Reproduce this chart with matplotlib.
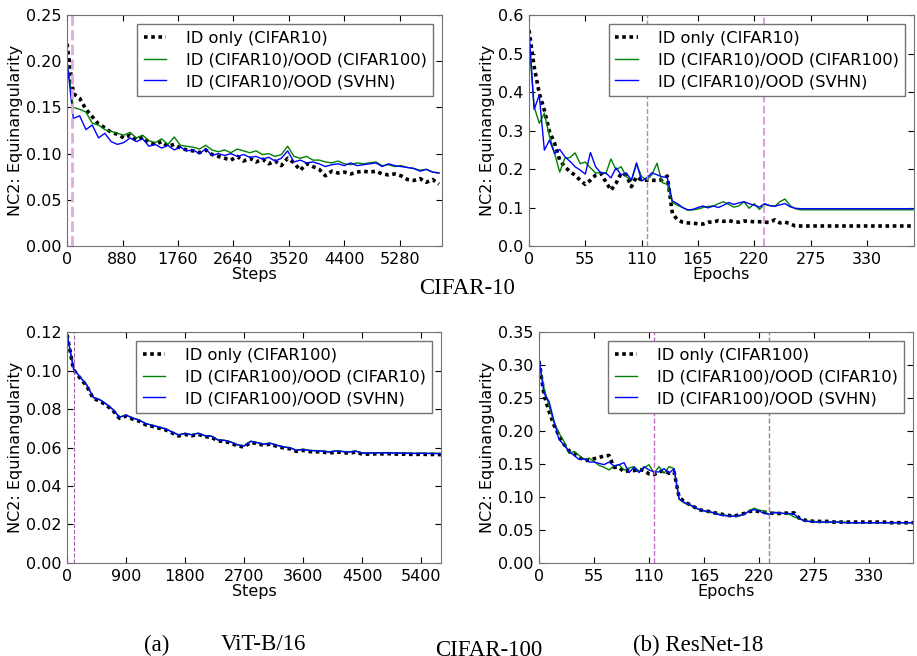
import numpy as np
import matplotlib.pyplot as plt

# ---- ViT-B/16, CIFAR-10 (steps) ----
vit10_steps = np.arange(0, 6000, 100)
vit10_id = [0.219, 0.165, 0.160, 0.148, 0.140, 0.132, 0.128, 0.123, 0.121, 0.117,
            0.120, 0.115, 0.118, 0.112, 0.110, 0.113, 0.108, 0.110, 0.106, 0.104,
            0.103, 0.101, 0.104, 0.099, 0.097, 0.095, 0.093, 0.097, 0.092, 0.095,
            0.091, 0.094, 0.089, 0.092, 0.087, 0.095, 0.090, 0.082, 0.089, 0.086,
            0.083, 0.076, 0.081, 0.079, 0.080, 0.078, 0.080, 0.081, 0.080, 0.081,
            0.078, 0.077, 0.078, 0.076, 0.072, 0.071, 0.073, 0.069, 0.072, 0.067]
vit10_c100 = [0.200, 0.150, 0.148, 0.145, 0.133, 0.131, 0.126, 0.124, 0.122, 0.120,
              0.123, 0.117, 0.120, 0.114, 0.112, 0.116, 0.110, 0.118, 0.109, 0.108,
              0.107, 0.105, 0.109, 0.104, 0.102, 0.104, 0.101, 0.105, 0.103, 0.101,
              0.103, 0.099, 0.100, 0.097, 0.099, 0.108, 0.097, 0.095, 0.097, 0.093,
              0.093, 0.091, 0.090, 0.092, 0.089, 0.088, 0.090, 0.089, 0.090, 0.091,
              0.087, 0.088, 0.086, 0.087, 0.085, 0.084, 0.082, 0.083, 0.080, 0.079]
vit10_svhn = [0.200, 0.138, 0.141, 0.126, 0.131, 0.117, 0.122, 0.113, 0.110, 0.112,
              0.117, 0.113, 0.116, 0.108, 0.110, 0.106, 0.109, 0.104, 0.107, 0.103,
              0.104, 0.100, 0.105, 0.098, 0.100, 0.098, 0.100, 0.097, 0.099, 0.096,
              0.097, 0.094, 0.096, 0.092, 0.095, 0.103, 0.091, 0.093, 0.090, 0.091,
              0.089, 0.086, 0.088, 0.089, 0.087, 0.090, 0.087, 0.088, 0.089, 0.090,
              0.086, 0.089, 0.087, 0.086, 0.085, 0.084, 0.081, 0.083, 0.080, 0.079]

# ---- ResNet-18, CIFAR-10 (epochs) ----
res10_epochs = np.arange(0, 380, 5)
res10_id = [0.561, 0.466, 0.397, 0.353, 0.297, 0.267, 0.223, 0.206, 0.193, 0.184,
            0.171, 0.160, 0.171, 0.184, 0.189, 0.167, 0.145, 0.163, 0.189, 0.184,
            0.154, 0.180, 0.171, 0.171, 0.171, 0.170, 0.172, 0.182, 0.085, 0.068,
            0.062, 0.060, 0.059, 0.058, 0.057, 0.062, 0.062, 0.066, 0.064, 0.066,
            0.063, 0.062, 0.065, 0.064, 0.063, 0.063, 0.062, 0.061, 0.068, 0.060,
            0.062, 0.058, 0.052, 0.052, 0.052, 0.052, 0.052, 0.052, 0.052, 0.052,
            0.052, 0.052, 0.052, 0.052, 0.052, 0.052, 0.052, 0.052, 0.052, 0.052,
            0.052, 0.052, 0.052, 0.052, 0.052, 0.052]
res10_c100 = [0.531, 0.362, 0.319, 0.345, 0.285, 0.240, 0.192, 0.228, 0.230, 0.242,
              0.214, 0.218, 0.203, 0.190, 0.190, 0.188, 0.226, 0.198, 0.206, 0.180,
              0.170, 0.213, 0.180, 0.172, 0.185, 0.215, 0.165, 0.160, 0.113, 0.106,
              0.100, 0.093, 0.094, 0.096, 0.100, 0.103, 0.104, 0.110, 0.115, 0.108,
              0.101, 0.104, 0.115, 0.098, 0.110, 0.095, 0.108, 0.105, 0.103, 0.115,
              0.122, 0.105, 0.097, 0.094, 0.094, 0.094, 0.094, 0.094, 0.094, 0.094,
              0.094, 0.094, 0.094, 0.094, 0.094, 0.094, 0.094, 0.094, 0.094, 0.094,
              0.094, 0.094, 0.094, 0.094, 0.094, 0.094]
res10_svhn = [0.561, 0.355, 0.392, 0.249, 0.275, 0.240, 0.251, 0.232, 0.220, 0.206,
              0.197, 0.187, 0.243, 0.206, 0.190, 0.190, 0.177, 0.203, 0.185, 0.190,
              0.171, 0.216, 0.169, 0.177, 0.190, 0.185, 0.180, 0.178, 0.117, 0.110,
              0.100, 0.094, 0.095, 0.100, 0.104, 0.099, 0.104, 0.100, 0.106, 0.113,
              0.108, 0.112, 0.115, 0.110, 0.106, 0.101, 0.110, 0.105, 0.103, 0.107,
              0.110, 0.102, 0.098, 0.097, 0.097, 0.097, 0.097, 0.097, 0.097, 0.097,
              0.097, 0.097, 0.097, 0.097, 0.097, 0.097, 0.097, 0.097, 0.097, 0.097,
              0.097, 0.097, 0.097, 0.097, 0.097, 0.097]

# ---- ViT-B/16, CIFAR-100 (steps) ----
vit100_steps = np.arange(0, 5800, 100)
vit100_id = [0.1186, 0.1004, 0.0960, 0.0920, 0.0855, 0.0842, 0.0820, 0.0792, 0.0752, 0.0763,
             0.0748, 0.0737, 0.0718, 0.0710, 0.0701, 0.0692, 0.0676, 0.0660, 0.0668, 0.0661,
             0.0669, 0.0656, 0.0654, 0.0634, 0.0632, 0.0623, 0.0608, 0.0603, 0.0627, 0.0620,
             0.0612, 0.0618, 0.0606, 0.0598, 0.0593, 0.0580, 0.0585, 0.0579, 0.0578, 0.0577,
             0.0571, 0.0577, 0.0574, 0.0571, 0.0576, 0.0566, 0.0566, 0.0567, 0.0567, 0.0568,
             0.0566, 0.0566, 0.0565, 0.0564, 0.0565, 0.0564, 0.0564, 0.0563]
vit100_c10 = [0.1190, 0.1010, 0.0966, 0.0926, 0.0861, 0.0849, 0.0826, 0.0798, 0.0758, 0.0769,
              0.0754, 0.0743, 0.0725, 0.0716, 0.0707, 0.0698, 0.0682, 0.0666, 0.0674, 0.0667,
              0.0675, 0.0662, 0.0660, 0.0640, 0.0638, 0.0629, 0.0614, 0.0609, 0.0633, 0.0626,
              0.0618, 0.0623, 0.0612, 0.0604, 0.0599, 0.0586, 0.0591, 0.0585, 0.0584, 0.0582,
              0.0577, 0.0583, 0.0580, 0.0577, 0.0582, 0.0572, 0.0572, 0.0573, 0.0573, 0.0573,
              0.0572, 0.0572, 0.0571, 0.0570, 0.0571, 0.0570, 0.0570, 0.0569]
vit100_svhn = [0.1188, 0.1008, 0.0965, 0.0925, 0.0860, 0.0848, 0.0825, 0.0797, 0.0757, 0.0768,
               0.0753, 0.0742, 0.0724, 0.0715, 0.0706, 0.0697, 0.0681, 0.0665, 0.0673, 0.0666,
               0.0674, 0.0661, 0.0659, 0.0639, 0.0637, 0.0628, 0.0613, 0.0608, 0.0632, 0.0625,
               0.0617, 0.0622, 0.0611, 0.0603, 0.0598, 0.0585, 0.0590, 0.0584, 0.0583, 0.0581,
               0.0576, 0.0582, 0.0579, 0.0576, 0.0581, 0.0571, 0.0571, 0.0572, 0.0572, 0.0572,
               0.0571, 0.0571, 0.0570, 0.0569, 0.0570, 0.0569, 0.0569, 0.0568]

# ---- ResNet-18, CIFAR-100 (epochs) ----
res100_epochs = np.arange(0, 380, 5)
res100_id = [0.306, 0.255, 0.230, 0.209, 0.193, 0.180, 0.170, 0.167, 0.161, 0.155,
             0.156, 0.158, 0.160, 0.162, 0.163, 0.145, 0.145, 0.138, 0.140, 0.140,
             0.142, 0.140, 0.135, 0.134, 0.138, 0.140, 0.136, 0.138, 0.100, 0.093,
             0.089, 0.085, 0.081, 0.079, 0.078, 0.076, 0.075, 0.073, 0.072, 0.071,
             0.073, 0.075, 0.078, 0.079, 0.078, 0.077, 0.076, 0.075, 0.075, 0.076,
             0.075, 0.076, 0.068, 0.065, 0.064, 0.063, 0.063, 0.063, 0.063, 0.062,
             0.062, 0.062, 0.062, 0.062, 0.062, 0.062, 0.062, 0.062, 0.062, 0.062,
             0.061, 0.061, 0.061, 0.061, 0.061, 0.061]
res100_c10 = [0.305, 0.265, 0.238, 0.213, 0.197, 0.184, 0.166, 0.169, 0.163, 0.157,
              0.159, 0.154, 0.148, 0.145, 0.141, 0.147, 0.149, 0.141, 0.144, 0.146,
              0.139, 0.144, 0.149, 0.136, 0.146, 0.136, 0.146, 0.143, 0.097, 0.091,
              0.088, 0.085, 0.081, 0.079, 0.077, 0.076, 0.074, 0.073, 0.071, 0.071,
              0.071, 0.074, 0.079, 0.083, 0.080, 0.079, 0.073, 0.077, 0.076, 0.075,
              0.074, 0.070, 0.067, 0.064, 0.063, 0.063, 0.062, 0.062, 0.062, 0.062,
              0.062, 0.062, 0.061, 0.061, 0.061, 0.061, 0.061, 0.061, 0.061, 0.061,
              0.061, 0.061, 0.061, 0.061, 0.061, 0.061]
res100_svhn = [0.310, 0.257, 0.245, 0.215, 0.187, 0.179, 0.169, 0.163, 0.157, 0.158,
               0.153, 0.153, 0.151, 0.149, 0.153, 0.147, 0.149, 0.152, 0.137, 0.145,
               0.137, 0.146, 0.141, 0.138, 0.138, 0.143, 0.136, 0.143, 0.097, 0.092,
               0.089, 0.085, 0.081, 0.079, 0.078, 0.076, 0.073, 0.072, 0.071, 0.071,
               0.072, 0.074, 0.078, 0.081, 0.079, 0.075, 0.074, 0.076, 0.076, 0.075,
               0.075, 0.074, 0.068, 0.064, 0.063, 0.062, 0.062, 0.062, 0.062, 0.062,
               0.062, 0.061, 0.061, 0.061, 0.061, 0.061, 0.061, 0.061, 0.061, 0.061,
               0.061, 0.061, 0.061, 0.061, 0.061, 0.061]

labels10 = ["ID only (CIFAR10)", "ID (CIFAR10)/OOD (CIFAR100)", "ID (CIFAR10)/OOD (SVHN)"]
labels100 = ["ID only (CIFAR100)", "ID (CIFAR100)/OOD (CIFAR10)", "ID (CIFAR100)/OOD (SVHN)"]

plt.rcParams["font.family"] = "DejaVu Sans"
plt.rcParams["xtick.direction"] = "in"
plt.rcParams["ytick.direction"] = "in"
plt.rcParams["xtick.top"] = True
plt.rcParams["ytick.right"] = True
plt.rcParams["xtick.major.size"] = 4
plt.rcParams["ytick.major.size"] = 4
plt.rcParams["xtick.major.pad"] = 4
plt.rcParams["ytick.major.pad"] = 4

fig = plt.figure(figsize=(9.17, 6.56), dpi=100)


def panel(rect, x, ys, labels, xlim, xticks, xlabel, ylim, yticks, yfmt, vlines):
    ax = fig.add_axes(rect)
    ax.plot(x, ys[0], color="black", linestyle=(0, (1, 1)), linewidth=2.6, label=labels[0])
    ax.plot(x, ys[1], color="#008000", linewidth=1.0, label=labels[1])
    ax.plot(x, ys[2], color="#0000ff", linewidth=1.0, label=labels[2])
    for xv, col, lw in vlines:
        ax.axvline(xv, color=col, linestyle="--", linewidth=lw)
    ax.set_xlim(xlim)
    ax.set_ylim(ylim)
    ax.set_xticks(xticks)
    ax.set_yticks(yticks)
    ax.set_yticklabels([yfmt % v for v in yticks])
    ax.tick_params(labelsize=11.5)
    for s in ax.spines.values():
        s.set_color("0.45")
    ax.set_xlabel(xlabel, fontsize=11.5, labelpad=0)
    ax.set_ylabel("NC2: Equinangularity", fontsize=11.5, labelpad=2)
    ax.legend(loc="upper right", fontsize=11.7, fancybox=False, framealpha=1,
              edgecolor="0.45", handlelength=1.4, handletextpad=1.2,
              borderpad=0.4, labelspacing=0.42, borderaxespad=0.55)
    return ax


panel([0.0731, 0.625, 0.409, 0.352], vit10_steps, [vit10_id, vit10_c100, vit10_svhn],
      labels10, (0, 5950), [0, 880, 1760, 2640, 3520, 4400, 5280], "Steps",
      (0, 0.25), [0, 0.05, 0.10, 0.15, 0.20, 0.25], "%.2f",
      [(80, "#e3a8e3", 2.0)])
panel([0.5769, 0.625, 0.4198, 0.352], res10_epochs, [res10_id, res10_c100, res10_svhn],
      labels10, (0, 376), [0, 55, 110, 165, 220, 275, 330], "Epochs",
      (0, 0.6), [0, 0.1, 0.2, 0.3, 0.4, 0.5, 0.6], "%.1f",
      [(115, "#c080c8", 1.0), (230, "#dda0dd", 1.5)])
panel([0.0731, 0.1418, 0.408, 0.352], vit100_steps, [vit100_id, vit100_c10, vit100_svhn],
      labels100, (0, 5705), [0, 900, 1800, 2700, 3600, 4500, 5400], "Steps",
      (0, 0.12), [0, 0.02, 0.04, 0.06, 0.08, 0.10, 0.12], "%.2f",
      [(100, "#a060a8", 0.8)])
panel([0.5878, 0.1418, 0.408, 0.352], res100_epochs, [res100_id, res100_c10, res100_svhn],
      labels100, (0, 374), [0, 55, 110, 165, 220, 275, 330], "Epochs",
      (0, 0.35), [0, 0.05, 0.10, 0.15, 0.20, 0.25, 0.30, 0.35], "%.2f",
      [(115, "#c070c8", 1.0), (230, "#b070b8", 1.0)])

serif = "Liberation Serif"
fig.text(467 / 917, 1 - 289 / 656, "CIFAR-10", family=serif, fontsize=16.5, ha="center", va="center")
fig.text(157 / 917, 1 - 645 / 656, "(a)", family=serif, fontsize=16.5, ha="center", va="center")
fig.text(263 / 917, 1 - 645 / 656, "ViT-B/16", family=serif, fontsize=16.5, ha="center", va="center")
fig.text(489 / 917, 1 - 650 / 656, "CIFAR-100", family=serif, fontsize=16.5, ha="center", va="center")
fig.text(698 / 917, 1 - 645 / 656, "(b) ResNet-18", family=serif, fontsize=16.5, ha="center", va="center")

plt.savefig("out.png", dpi=100)
